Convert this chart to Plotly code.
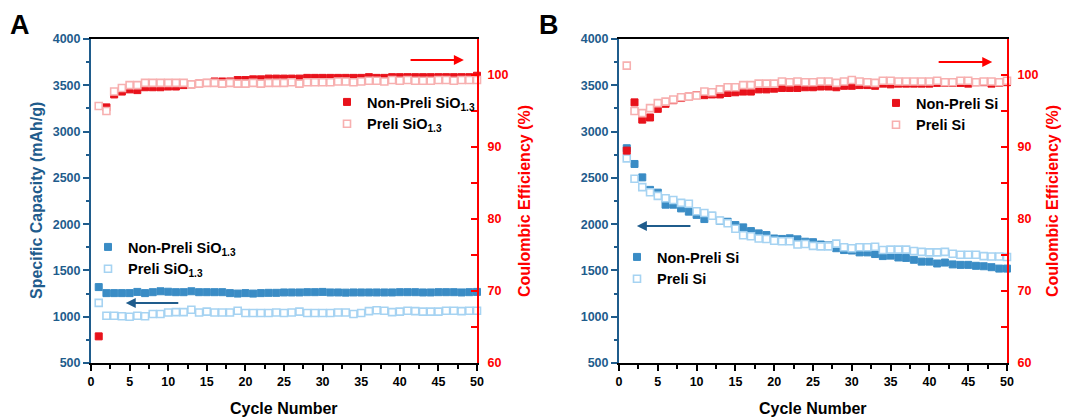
import plotly.graph_objects as go

cycles = list(range(1, 51))

capA_non = [1320, 1255, 1255, 1255, 1255, 1268, 1255, 1265, 1275, 1270,
            1265, 1265, 1275, 1265, 1265, 1265, 1265, 1255, 1250, 1255,
            1250, 1255, 1258, 1258, 1262, 1262, 1262, 1265, 1265, 1268,
            1262, 1262, 1260, 1262, 1262, 1262, 1262, 1262, 1262, 1265,
            1265, 1265, 1262, 1262, 1265, 1265, 1265, 1262, 1265, 1268]
capA_pre = [1150, 1010, 1010, 1005, 1000, 1010, 1005, 1030, 1030, 1045,
            1050, 1050, 1075, 1045, 1055, 1045, 1045, 1045, 1065, 1040,
            1040, 1040, 1040, 1045, 1040, 1045, 1055, 1040, 1040, 1040,
            1040, 1045, 1045, 1030, 1040, 1060, 1070, 1065, 1050, 1055,
            1065, 1060, 1055, 1055, 1055, 1065, 1065, 1060, 1065, 1065]
ceA_non = [63.7, 95.5, 97.3, 97.7, 98.0, 97.9, 98.3, 98.3, 98.3, 98.4,
           98.4, 98.6, 98.7, 98.8, 98.9, 99.1, 99.1, 99.1, 99.3, 99.3,
           99.4, 99.4, 99.5, 99.5, 99.5, 99.5, 99.5, 99.6, 99.6, 99.6,
           99.6, 99.6, 99.6, 99.6, 99.6, 99.7, 99.6, 99.6, 99.7, 99.7,
           99.7, 99.7, 99.7, 99.7, 99.7, 99.7, 99.7, 99.7, 99.7, 99.9]
ceA_pre = [95.7, 95.0, 97.7, 98.2, 98.6, 98.6, 98.9, 98.9, 98.9, 98.9,
           98.9, 98.9, 98.7, 98.8, 98.9, 98.9, 98.8, 98.9, 98.8, 98.8,
           98.9, 98.8, 98.9, 98.9, 98.9, 99.0, 98.8, 99.0, 99.0, 99.0,
           99.0, 99.1, 99.1, 99.0, 99.1, 99.2, 99.2, 99.1, 99.3, 99.2,
           99.3, 99.2, 99.2, 99.2, 99.3, 99.3, 99.2, 99.3, 99.3, 99.3]

capB_non = [2820, 2650, 2505, 2370, 2340, 2210, 2210, 2170, 2135, 2100,
            2055, 2090, 2037, 2026, 1990, 1965, 1925, 1900, 1882, 1845,
            1840, 1847, 1836, 1810, 1805, 1780, 1770, 1740, 1720, 1715,
            1695, 1695, 1677, 1655, 1660, 1640, 1635, 1615, 1595, 1595,
            1575, 1585, 1565, 1560, 1560, 1550, 1545, 1535, 1520, 1520]
capB_pre = [2710, 2490, 2400, 2345, 2305, 2280, 2260, 2230, 2220, 2140,
            2120, 2090, 2040, 2010, 1950, 1880, 1870, 1845, 1840, 1820,
            1815, 1815, 1780, 1785, 1765, 1760, 1760, 1790, 1750, 1740,
            1750, 1750, 1755, 1720, 1725, 1725, 1725, 1710, 1700, 1695,
            1695, 1700, 1680, 1670, 1670, 1670, 1655, 1650, 1650, 1645]
ceB_non = [89.5, 96.2, 93.8, 94.1, 95.3, 96.0, 96.5, 96.8, 97.0, 97.2,
           97.2, 97.3, 97.3, 97.5, 97.6, 97.7, 97.7, 98.0, 98.0, 98.1,
           98.2, 98.2, 98.2, 98.3, 98.3, 98.4, 98.4, 98.3, 98.5, 98.5,
           98.6, 98.6, 98.5, 98.8, 98.7, 98.8, 98.8, 98.8, 98.8, 98.8,
           98.9, 98.9, 98.9, 98.9, 98.8, 99.0, 99.0, 98.8, 98.9, 99.0]
ceB_pre = [101.3, 95.0, 94.7, 95.4, 96.1, 96.3, 96.6, 96.9, 97.0, 97.15,
           97.7, 97.6, 98.0, 98.3, 98.3, 98.6, 98.6, 98.8, 98.8, 98.8,
           99.1, 99.0, 99.1, 99.0, 99.0, 99.1, 99.1, 98.9, 99.1, 99.3,
           99.1, 99.0, 98.9, 99.2, 99.2, 99.1, 99.1, 99.1, 99.1, 99.1,
           99.2, 99.0, 99.0, 99.2, 99.2, 99.0, 99.1, 99.1, 99.0, 99.2]

namesA = ["Non-Preli SiO<sub>1.3</sub>", "Preli SiO<sub>1.3</sub>"]
namesB = ["Non-Preli Si", "Preli Si"]

cap_ticks = [500, 1000, 1500, 2000, 2500, 3000, 3500, 4000]
ce_ticks = [60, 70, 80, 90, 100]
x_ticks = [0, 5, 10, 15, 20, 25, 30, 35, 40, 45, 50]

W, H = 1078, 418
def px(v):
    return v / W
def py(v):
    return 1 - v / H

BLUE_AX = "#1f5c8c"
BLUE_F = "#3a8cc5"
BLUE_O = "#a6d3f2"
RED_F = "#e8121b"
RED_O = "#f7b0b0"
RED_AX = "#ff0000"
FONT = "Liberation Sans"

fig = go.Figure()

def add_panel(xa, yl, yr, cap_non, cap_pre, ce_non, ce_pre, names, leg_cap, leg_ce):
    common = dict(x=cycles, mode="markers", xaxis=xa, cliponaxis=False)
    fig.add_trace(go.Scatter(y=cap_non, yaxis=yl, name=names[0], legend=leg_cap,
                             marker=dict(symbol="square", size=7, color=BLUE_F,
                                         line=dict(color=BLUE_F, width=1)), **common))
    fig.add_trace(go.Scatter(y=cap_pre, yaxis=yl, name=names[1], legend=leg_cap,
                             marker=dict(symbol="square", size=7, color="white",
                                         line=dict(color=BLUE_O, width=1.6)), **common))
    fig.add_trace(go.Scatter(y=ce_non, yaxis=yr, name=names[0], legend=leg_ce,
                             marker=dict(symbol="square", size=7, color=RED_F,
                                         line=dict(color=RED_F, width=1)), **common))
    fig.add_trace(go.Scatter(y=ce_pre, yaxis=yr, name=names[1], legend=leg_ce,
                             marker=dict(symbol="square", size=7, color="white",
                                         line=dict(color=RED_O, width=1.6)), **common))

add_panel("x", "y", "y2", capA_non, capA_pre, ceA_non, ceA_pre, namesA, "legend2", "legend")
add_panel("x2", "y3", "y4", capB_non, capB_pre, ceB_non, ceB_pre, namesB, "legend4", "legend3")

tick_font = lambda c: dict(family=FONT, size=12.5, color=c, weight="bold")

def xaxis(dom, anchor):
    return dict(domain=dom, anchor=anchor, range=[0, 50], tickvals=x_ticks,
                ticks="outside", ticklen=6, tickwidth=1.5, tickcolor="black",
                showline=True, linecolor="black", linewidth=2, mirror=True,
                showgrid=False, zeroline=False, tickfont=tick_font("black"),
                automargin=False,
                minor=dict(tickvals=[v + 2.5 for v in x_ticks[:-1]], ticks="outside",
                           ticklen=3.5, tickwidth=1.5, tickcolor="black", showgrid=False))

def ycap(anchor):
    return dict(domain=[py(363), py(39)], anchor=anchor, range=[500, 4000],
                tickvals=cap_ticks, ticks="outside", ticklen=6, tickwidth=1.5,
                tickcolor=BLUE_AX, showline=True, linecolor=BLUE_AX, linewidth=2,
                showgrid=False, zeroline=False, tickfont=tick_font(BLUE_AX),
                automargin=False,
                minor=dict(tickvals=[v + 250 for v in cap_ticks[:-1]], ticks="outside",
                           ticklen=3.5, tickwidth=1.5, tickcolor=BLUE_AX, showgrid=False))

def yce(anchor, over):
    return dict(overlaying=over, side="right", anchor=anchor, range=[60, 105],
                tickvals=ce_ticks, ticks="inside", ticklen=6, tickwidth=1.5,
                tickcolor=RED_AX, showline=True, linecolor=RED_AX, linewidth=2,
                showgrid=False, zeroline=False, tickfont=tick_font(RED_AX),
                ticklabelstandoff=6, automargin=False,
                minor=dict(tickvals=[v + 5 for v in ce_ticks[:-1]], ticks="inside",
                           ticklen=6, tickwidth=1.5, tickcolor=RED_AX, showgrid=False))

leg_font = dict(family=FONT, size=14.5, color="black", weight="bold")
def legend(x, y):
    return dict(x=px(x), y=py(y), xanchor="left", yanchor="top",
                bgcolor="rgba(0,0,0,0)", font=leg_font, itemwidth=30)

annotations = []
def arrow(x, y, ax, yref, color):
    annotations.append(dict(x=x, y=y, ax=ax, ay=y, xref=yref[0], yref=yref[1],
                            axref=yref[0], ayref=yref[1], text="", showarrow=True,
                            arrowhead=2, arrowsize=1, arrowwidth=2, arrowcolor=color))

arrow(48.3, 102.1, 41.2, ("x", "y2"), RED_AX)
arrow(4.5, 1148, 11.5, ("x", "y"), BLUE_AX)
arrow(48.1, 101.8, 41.0, ("x2", "y4"), RED_AX)
arrow(2.3, 1980, 9.4, ("x2", "y3"), BLUE_AX)

def label(text, x, y, size, color, angle=0):
    annotations.append(dict(text=text, x=px(x), y=py(y), xref="paper", yref="paper",
                            xanchor="center", yanchor="middle", showarrow=False,
                            textangle=angle,
                            font=dict(family=FONT, size=size, color=color, weight="bold")))

label("A", 20, 25, 27, "black")
label("B", 549, 25, 27, "black")
label("Specific Capacity (mAh/g)", 36, 201, 16, BLUE_AX, -90)
label("Coulombic Efficiency (%)", 524, 201, 16, RED_AX, -90)
label("Coulombic Efficiency (%)", 1052, 201, 16, RED_AX, -90)
label("Cycle Number", 284, 408, 16, "black")
label("Cycle Number", 813, 408, 16, "black")

fig.update_layout(
    width=W, height=H, margin=dict(l=0, r=0, t=0, b=0, autoexpand=False),
    paper_bgcolor="white", plot_bgcolor="white",
    xaxis=xaxis([px(91), px(477)], "y"),
    yaxis=ycap("x"),
    yaxis2=yce("x", "y"),
    xaxis2=xaxis([px(619), px(1007)], "y3"),
    yaxis3=ycap("x2"),
    yaxis4=yce("x2", "y3"),
    legend=legend(327, 86),
    legend2=legend(88, 231),
    legend3=legend(876, 87),
    legend4=legend(617, 241),
    annotations=annotations,
    showlegend=True,
)

fig.write_html("out.html", config={"displayModeBar": False},
               post_script="document.body.style.margin='0px';document.body.style.overflow='hidden';")
